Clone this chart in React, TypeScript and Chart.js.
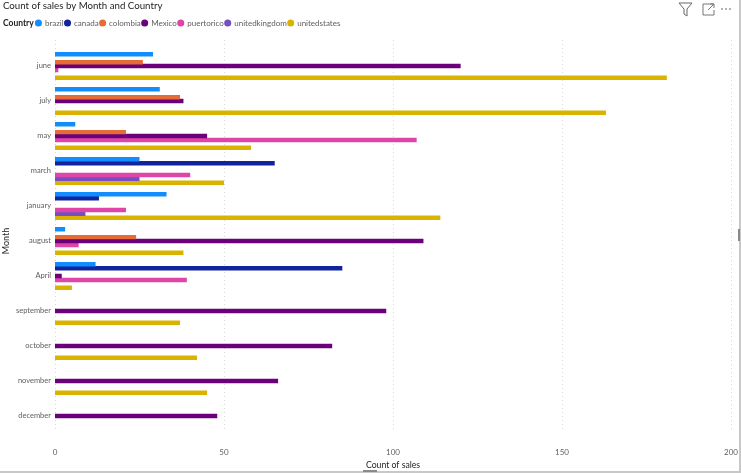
import React, { useEffect, useRef } from "react";
import { Chart, registerables } from "chart.js";

Chart.register(...registerables);

const months = ["june", "july", "may", "march", "january", "august", "April", "september", "october", "november", "december"];
const brazil = [29, 31, 6, 25, 33, 3, 12, null, null, null, null];
const canada = [null, null, null, 65, 13, null, 85, null, null, null, null];
const colombia = [26, 37, 21, null, null, 24, null, null, null, null, null];
const mexico = [120, 38, 45, null, null, 109, 2, 98, 82, 66, 48];
const puertorico = [1, null, 107, 40, 21, 7, 39, null, null, null, null];
const unitedkingdom = [null, null, null, 25, 9, null, null, null, null, null, null];
const unitedstates = [181, 163, 58, 50, 114, 38, 5, 37, 42, 45, null];
const xTicks = [0, 50, 100, 150, 200];

const FONT = "Lato, sans-serif";

const gridPlugin = {
  id: "dottedGrid",
  beforeDatasetsDraw(chart: any) {
    const { ctx, scales } = chart;
    ctx.save();
    ctx.strokeStyle = "#d8d8d8";
    ctx.lineWidth = 1;
    ctx.setLineDash([1, 3]);
    for (const t of xTicks) {
      const x = Math.round(scales.x.getPixelForValue(t)) + 0.5;
      ctx.beginPath();
      ctx.moveTo(x, 40);
      ctx.lineTo(x, 432);
      ctx.stroke();
    }
    ctx.restore();
  },
};

const LEGEND_LIFT = 11.5;
const headerShift = {
  id: "headerShift",
  beforeDraw(chart: any) {
    const legend = chart.legend;
    const width = legend.width;
    const height = legend.height;
    legend.left = 34.5;
    legend.right = 34.5 + width;
    legend.top = chart.titleBlock.bottom - LEGEND_LIFT;
    legend.bottom = legend.top + height;
    chart.titleBlock.left = 3;
    chart.titleBlock.right = 3 + chart.titleBlock.width;
  },
};

export default function App() {
  const ref = useRef<HTMLCanvasElement>(null);
  useEffect(() => {
    const make = (label: string, data: (number | null)[], color: string) => ({
      label,
      data,
      backgroundColor: color,
      borderWidth: 0,
      categoryPercentage: 0.78,
      barPercentage: 1.15,
    });
    const chart = new Chart(ref.current!, {
      type: "bar",
      data: {
        labels: months,
        datasets: [
          make("brazil", brazil, "#118DFF"),
          make("canada", canada, "#12239E"),
          make("colombia", colombia, "#E66C37"),
          make("Mexico", mexico, "#6B007B"),
          make("puertorico", puertorico, "#E044A7"),
          make("unitedkingdom", unitedkingdom, "#744EC2"),
          make("unitedstates", unitedstates, "#D9B300"),
        ],
      },
      plugins: [gridPlugin, headerShift],
      options: {
        indexAxis: "y",
        animation: false,
        responsive: false,
        layout: { padding: { left: 0, right: 8, top: 0, bottom: 0 } },
        plugins: {
          tooltip: { enabled: false },
          title: {
            display: true,
            text: "Count of sales by Month and Country",
            align: "start",
            color: "#252423",
            font: { family: FONT, size: 9.7, weight: "normal" },
            padding: { top: 0, bottom: 17.5 },
          },
          legend: {
            position: "top",
            align: "start",
            labels: {
              usePointStyle: true,
              pointStyle: "circle",
              boxWidth: 5,
              boxHeight: 5,
              padding: 1.4,
              color: "#605E5C",
              font: { family: FONT, size: 8 },
            },
          },
        },
        scales: {
          x: {
            type: "linear",
            min: 0,
            max: 200,
            ticks: { stepSize: 50, color: "#605E5C", font: { family: FONT, size: 8 }, maxRotation: 0, padding: 3 },
            grid: { display: false, tickLength: 11 },
            border: { display: false },
            title: {
              display: true,
              text: "Count of sales",
              color: "#252423",
              font: { family: FONT, size: 8.7 },
              padding: { top: 0, bottom: 3 },
            },
            afterFit: (s: any) => { s.height = 39.5; },
          },
          y: {
            type: "category",
            offset: true,
            ticks: { color: "#605E5C", font: { family: FONT, size: 7.5 }, autoSkip: false, padding: 4 },
            grid: { display: false, tickLength: 0 },
            border: { display: false },
            title: {
              display: true,
              text: "Month",
              color: "#252423",
              font: { family: FONT, size: 9 },
              padding: { top: 1, bottom: 0 },
            },
            afterFit: (s: any) => { s.width = 55; },
          },
        },
      } as any,
    });
    return () => chart.destroy();
  }, []);

  return (
    <div style={{ position: "absolute", left: 0, top: 0, width: 741, height: 473, background: "#fff", overflow: "hidden" }}>
      <canvas ref={ref} width={741} height={473} style={{ display: "block" }} />
      <div style={{ position: "absolute", left: 3, top: 17, fontFamily: FONT, fontSize: 8.5, fontWeight: 700, color: "#252423", lineHeight: "12px" }}>Country</div>
      <div style={{ position: "absolute", right: 0, top: 0, width: 2, height: 473, background: "#c8c8c8" }} />
      <div style={{ position: "absolute", left: 0, top: 471, width: 741, height: 2, background: "#c8c8c8" }} />
      <div style={{ position: "absolute", left: 363, top: 470, width: 14, height: 2, background: "#8a8a8a" }} />
      <div style={{ position: "absolute", left: 738, top: 229, width: 2, height: 12, background: "#8a8a8a" }} />
      <svg style={{ position: "absolute", left: 676, top: 0 }} width={60} height={18} viewBox="0 0 60 18">
        <path d="M3 3 H16 L11 9 V16 L8 14 V9 Z" fill="none" stroke="#666" strokeWidth={1} />
        <path d="M38 4 H27 V15 H38 V10 M32 10 L38 4 M34 4 H38 V8" fill="none" stroke="#777" strokeWidth={1} />
        <circle cx={46} cy={9} r={0.8} fill="#555" />
        <circle cx={50} cy={9} r={0.8} fill="#555" />
        <circle cx={54} cy={9} r={0.8} fill="#555" />
      </svg>
    </div>
  );
}
